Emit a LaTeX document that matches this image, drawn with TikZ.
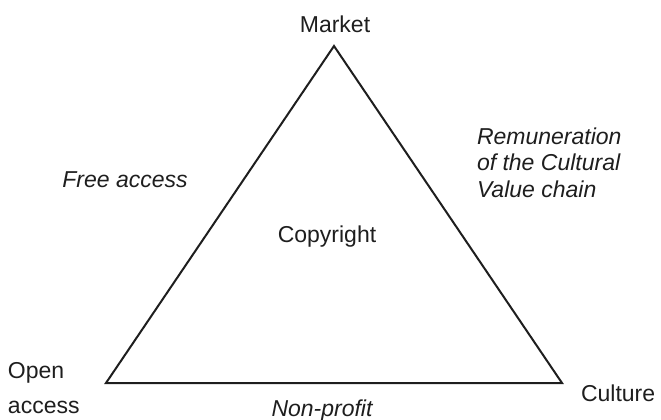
\documentclass[tikz,border=0pt]{standalone}
\usepackage{fontspec}
\setmainfont{Liberation Sans}
\definecolor{ink}{HTML}{1E1E1E}
\begin{document}
\begin{tikzpicture}[x=1pt,y=-1pt,
  lbl/.style={inner sep=0pt, outer sep=0pt, text=ink, font=\fontsize{23}{26.5}\selectfont},
  ilbl/.style={lbl, font=\fontsize{23}{26.5}\selectfont\itshape},
  edge/.style={draw=ink, line width=2pt, line join=miter}]
\useasboundingbox (0,0) rectangle (661,420);
\coordinate (top) at (334,46);
\coordinate (bl) at (106,383);
\coordinate (br) at (562,383);
\draw[edge] (top) -- (bl) -- (br) -- cycle;
\node[lbl, anchor=base] (market) at (335,33) {Market};
\node[lbl, anchor=base] (copyright) at (327,242) {Copyright};
\node[ilbl, anchor=base] (free) at (125,187) {Free access};
\node[ilbl, anchor=base west] (rem1) at (477,144) {Remuneration};
\node[ilbl, anchor=base west] (rem2) at (477,170.5) {of the Cultural};
\node[ilbl, anchor=base west] (rem3) at (477,197) {Value chain};
\node[lbl, anchor=base west] (open1) at (8,378) {Open};
\node[lbl, anchor=base west] (open2) at (8,413) {access};
\node[lbl, anchor=base west] (culture) at (581,401) {Culture};
\node[ilbl, anchor=base] (nonprofit) at (322,416) {Non-profit};
\end{tikzpicture}
\end{document}
